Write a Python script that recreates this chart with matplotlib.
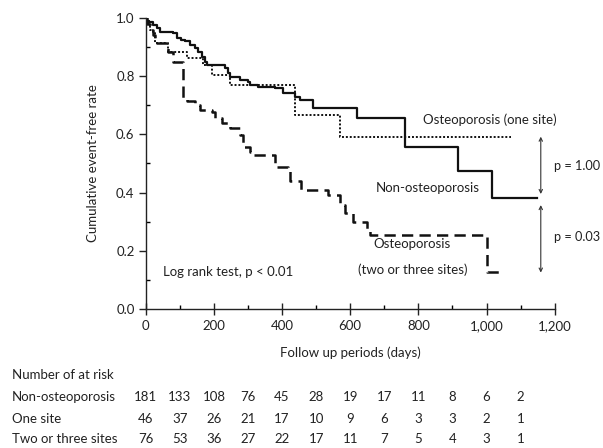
import matplotlib
matplotlib.use('Agg')
import matplotlib.pyplot as plt
import matplotlib.transforms as mtransforms

# -----------------------------------------------------------------------------
# Kaplan-Meier step data (event time in days, survival after the event)
# -----------------------------------------------------------------------------
non_t = [0, 3, 10, 22, 32, 42, 81, 91, 105, 115, 130, 145, 154, 164, 174, 179,
         233, 242, 247, 277, 301, 306, 330, 379, 404, 438, 453, 492, 619, 760,
         917, 1015]
non_s = [1.0, 0.99, 0.985, 0.976, 0.965, 0.953, 0.947, 0.930, 0.924, 0.919,
         0.908, 0.896, 0.884, 0.867, 0.849, 0.838, 0.827, 0.810, 0.798, 0.787,
         0.781, 0.770, 0.764, 0.758, 0.741, 0.730, 0.718, 0.690, 0.655, 0.558,
         0.475, 0.381]
non_end = 1147

one_t = [0, 5, 12, 20, 27, 66, 120, 169, 194, 247, 438, 570]
one_s = [1.0, 0.98, 0.96, 0.95, 0.913, 0.884, 0.861, 0.838, 0.804, 0.770,
         0.667, 0.592]
one_end = 1073

two_t = [0, 5, 12, 20, 27, 66, 81, 108, 120, 145, 159, 194, 203, 223, 247,
         277, 286, 306, 316, 379, 418, 423, 457, 535, 570, 585, 609, 648, 658,
         1000]
two_s = [1.0, 0.98, 0.96, 0.94, 0.913, 0.884, 0.850, 0.724, 0.715, 0.701,
         0.684, 0.678, 0.655, 0.638, 0.621, 0.598, 0.558, 0.541, 0.529, 0.489,
         0.478, 0.438, 0.409, 0.392, 0.357, 0.329, 0.300, 0.271, 0.254, 0.128]
two_end = 1042

# Number at risk table
risk_days = [0, 100, 200, 300, 400, 500, 600, 700, 800, 900, 1000, 1100]
risk_labels = ['Non-osteoporosis', 'One site', 'Two or three sites']
risk_non = [181, 133, 108, 76, 45, 28, 19, 17, 11, 8, 6, 2]
risk_one = [46, 37, 26, 21, 17, 10, 9, 6, 3, 3, 2, 1]
risk_two = [76, 53, 36, 27, 22, 17, 11, 7, 5, 4, 3, 1]

x_ticks = [0, 200, 400, 600, 800, 1000, 1200]
x_ticklabels = ['0', '200', '400', '600', '800', '1,000', '1,200']
y_ticks = [0.0, 0.2, 0.4, 0.6, 0.8, 1.0]

# -----------------------------------------------------------------------------
plt.rcParams['font.family'] = ['Lato', 'DejaVu Sans']
plt.rcParams['font.size'] = 9.5
txt = '#222222'

fig = plt.figure(figsize=(6.03, 4.48), dpi=100)
ax = fig.add_axes([0.2416, 0.3103, 0.6784, 0.6497])


def km(ax, t, s, end, **kw):
    ax.step(list(t) + [end], list(s) + [s[-1]], where='post', color='#111111', **kw)


km(ax, non_t, non_s, non_end, lw=1.6)
km(ax, one_t, one_s, one_end, lw=1.4, linestyle=(0, (1, 1)))
km(ax, two_t, two_s, two_end, lw=1.8, linestyle=(0, (4.5, 2.5)))

ax.set_xlim(0, 1200)
ax.set_ylim(0, 1.0)
ax.spines['top'].set_visible(False)
ax.spines['right'].set_visible(False)
for sp in ('left', 'bottom'):
    ax.spines[sp].set_linewidth(1.0)
    ax.spines[sp].set_color('#222222')

ax.set_xticks(x_ticks)
ax.set_xticklabels(x_ticklabels)
ax.set_xticks(range(100, 1200, 200), minor=True)
ax.set_yticks(y_ticks)
ax.set_yticklabels([f'{v:.1f}' for v in y_ticks])
ax.set_yticks([0.1, 0.3, 0.5, 0.7, 0.9], minor=True)
ax.tick_params(axis='x', which='major', direction='inout', length=8, width=1.0,
               pad=4, colors=txt)
ax.tick_params(axis='x', which='minor', direction='in', length=3, width=1.0)
ax.tick_params(axis='y', which='major', direction='out', length=5, width=1.0,
               pad=3, colors=txt)
ax.tick_params(axis='y', which='minor', direction='in', length=3, width=1.0)

ax.set_xlabel('Follow up periods (days)', color=txt, labelpad=10)
ax.set_ylabel('Cumulative event-free rate', color=txt, labelpad=12)

# Curve labels
ax.text(1010, 0.65, 'Osteoporosis (one site)', ha='center', va='center', color=txt)
ax.text(828, 0.417, 'Non-osteoporosis', ha='center', va='center', color=txt)
ax.text(782, 0.223, 'Osteoporosis', ha='center', va='center', color=txt)
ax.text(782, 0.134, '(two or three sites)', ha='center', va='center', color=txt)
ax.text(51, 0.128, 'Log rank test, p < 0.01', ha='left', va='center', color=txt)

# p-value arrows
arrow = dict(arrowstyle='<->', color='#333333', lw=0.8, shrinkA=0, shrinkB=0,
             mutation_scale=6)
ax.annotate('', xy=(1159, 0.592), xytext=(1159, 0.395), arrowprops=arrow,
            annotation_clip=False)
ax.annotate('', xy=(1159, 0.357), xytext=(1159, 0.125), arrowprops=arrow,
            annotation_clip=False)
ax.text(1199, 0.49, 'p = 1.00', ha='left', va='center', color=txt,
        fontsize=9.2, clip_on=False)
ax.text(1199, 0.248, 'p = 0.03', ha='left', va='center', color=txt,
        fontsize=9.2, clip_on=False)

# Number at risk table
fig.text(0.0194, 0.163, 'Number of at risk', ha='left', va='center', color=txt)
row_y = [0.1145, 0.064, 0.0194]
trans = mtransforms.blended_transform_factory(ax.transData, fig.transFigure)
for label, counts, y in zip(risk_labels, [risk_non, risk_one, risk_two], row_y):
    fig.text(0.0194, y, label, ha='left', va='center', color=txt)
    for d, n in zip(risk_days, counts):
        ax.text(d, y, str(n), ha='center', va='center', color=txt,
                transform=trans, clip_on=False)

fig.savefig('out.png', dpi=100)
